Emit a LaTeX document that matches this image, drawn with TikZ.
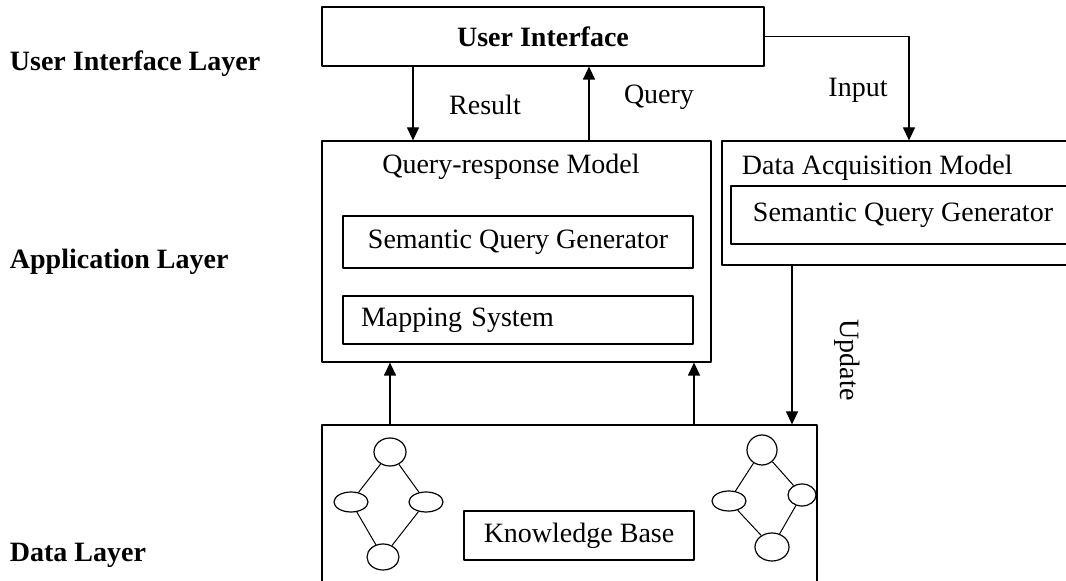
\documentclass[tikz,border=0pt]{standalone}
\usepackage{fontspec}
\setmainfont{Liberation Serif}
\usetikzlibrary{arrows.meta,shapes.geometric}

\newcommand{\bigtxt}{\fontsize{28}{32}\selectfont}

\tikzset{
  box/.style={draw,rectangle,inner sep=0pt},
  layer/.style={anchor=west,font=\bigtxt\bfseries},
  blob/.style={draw,ellipse,inner sep=0pt},
  arr/.style={-{Triangle[length=13pt,width=12pt]}},
}

\begin{document}
\begin{tikzpicture}[x=1pt,y=1pt,line width=1.2pt,line join=round,
  every node/.append style={font=\bigtxt}]
  \clip (0,0) rectangle (1066,581);

  % layer names
  \node[layer] (uil) at (6,517) {User Interface Layer};
  \node[layer] (apl) at (6,319) {Application Layer};
  \node[layer] (dal) at (6,26) {Data Layer};

  % top
  \node[box,minimum width=442,minimum height=59,font=\bigtxt\bfseries] (ui) at (543,544.5) {User Interface};

  % query-response model
  \node[box,minimum width=389,minimum height=221] (qr) at (516.5,329.5) {};
  \node (qrt) at (511,414) {Query-response Model};
  \node[box,minimum width=350,minimum height=52] (sqg) at (518,339) {Semantic Query Generator};
  \node[box,minimum width=350,minimum height=48,text width=314,align=left] (ms) at (518,261) {Mapping System};

  % data acquisition model
  \node[box,minimum width=353,minimum height=124] (da) at (898.5,378) {};
  \node[anchor=west] (dat) at (738,413) {Data Acquisition Model};
  \node[box,minimum width=344,minimum height=58] (sqg2) at (903,366) {Semantic Query Generator};

  % data layer
  \node[box,minimum width=495,minimum height=176] (kbox) at (569.5,68) {};
  \node[box,minimum width=230,minimum height=49] (kb) at (579,45.5) {Knowledge Base};

  % ontology graphs
  \node[blob,minimum width=32,minimum height=28] (t1) at (390,129) {};
  \node[blob,minimum width=34,minimum height=20] (l1) at (351,79) {};
  \node[blob,minimum width=34,minimum height=20] (r1) at (426,79) {};
  \node[blob,minimum width=32,minimum height=26] (b1) at (383,24) {};
  \node[blob,minimum width=30,minimum height=30] (t2) at (762,131) {};
  \node[blob,minimum width=34,minimum height=20] (l2) at (729,80) {};
  \node[blob,minimum width=28,minimum height=22] (r2) at (802,86) {};
  \node[blob,minimum width=34,minimum height=28] (b2) at (772,34) {};
  \foreach \g in {1,2}{
    \draw[line width=1pt] (t\g) -- (l\g) -- (b\g) -- (r\g) -- (t\g);
  }

  % connectors
  \coordinate (xr) at (413,0);
  \coordinate (xq) at (589,0);
  \coordinate (xi) at (909,0);
  \coordinate (xu) at (792,0);
  \coordinate (xa) at (390,0);
  \coordinate (xb) at (694,0);
  \draw[arr] (ui.south -| xr) -- (qr.north -| xr);
  \draw[arr] (qr.north -| xq) -- (ui.south -| xq);
  \draw[arr] (ui.east) -| (da.north -| xi);
  \draw[arr] (da.south -| xu) -- (kbox.north -| xu);
  \draw[arr] (kbox.north -| xa) -- (qr.south -| xa);
  \draw[arr] (kbox.north -| xb) -- (qr.south -| xb);

  \node (res) at (485,476) {Result};
  \node (qry) at (659,484) {Query};
  \node (inp) at (858,491) {Input};
  \node[rotate=-90] (upd) at (847,221) {Update};
\end{tikzpicture}
\end{document}
